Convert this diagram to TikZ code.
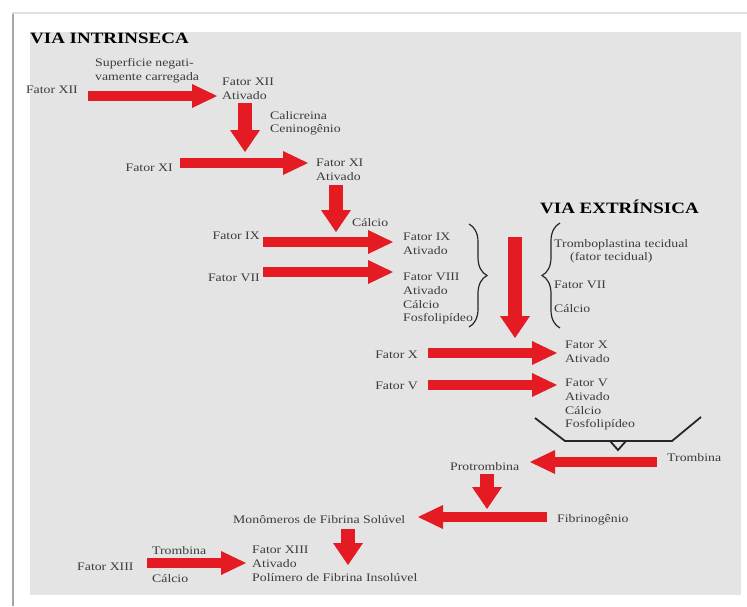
\documentclass[tikz,border=0pt]{standalone}
\usepackage{fontspec}
\setmainfont{Liberation Serif}[FakeStretch=1.2]
\usetikzlibrary{arrows.meta,decorations.pathreplacing}
\definecolor{arrowred}{RGB}{228,27,35}
\definecolor{panelgray}{RGB}{228,228,228}
\definecolor{txtgray}{RGB}{60,60,60}
\begin{document}
\begin{tikzpicture}[x=1pt,y=-1pt,
  lbl/.style={inner sep=0pt, text=txtgray, font=\fontsize{11.5}{13.7}\selectfont, align=left},
  ttl/.style={inner sep=0pt, text=black, font=\fontsize{15.8}{18}\selectfont\bfseries, anchor=base west},
  harrow/.style={draw=arrowred, line width=10pt, -{Triangle[width=24pt,length=25pt,line width=0pt]}},
  varrow/.style={draw=arrowred, line width=14pt, -{Triangle[width=30pt,length=22pt,line width=0pt]}},
  brc/.style={draw=black!85, line width=1.2pt, decorate, decoration={brace, amplitude=18pt}},
  vline/.style={draw=black!85, line width=1.8pt},
]
\useasboundingbox (0,0) rectangle (747,606);
% frame
\fill[white] (0,0) rectangle (747,606);
\fill[panelgray] (30,32) rectangle (741,595);
\fill[black!35] (11.5,13) rectangle (14,606);
\draw[black!12, line width=1.5pt] (12,13) -- (747,13);

% titles
\node[ttl] (t1) at (30,43.5) {VIA INTRINSECA};
\node[ttl] (t2) at (540,213) {VIA EXTRÍNSICA};

% labels
\node[lbl, anchor=base east] (fxii) at (78,93) {Fator XII};
\node[lbl, anchor=north west] (sup) at (95,58) {Superficie negati-\\vamente carregada};
\node[lbl, anchor=north west] (fxiia) at (222,78) {Fator XII\\Ativado};
\node[lbl, anchor=north west] (cal) at (270,111) {Calicreina\\Ceninogênio};
\node[lbl, anchor=base east] (fxi) at (173,171) {Fator XI};
\node[lbl, anchor=north west] (fxia) at (316,159) {Fator XI\\Ativado};
\node[lbl, anchor=base west] (ca1) at (352,226) {Cálcio};
\node[lbl, anchor=base east] (fix) at (260,239) {Fator IX};
\node[lbl, anchor=base east] (fvii) at (260,281) {Fator VII};
\node[lbl, anchor=north west] (fixa) at (403,233) {Fator IX\\Ativado};
\node[lbl, anchor=north west] (fviii) at (403,273) {Fator VIII\\Ativado\\Cálcio\\Fosfolipídeo};
\node[lbl, anchor=north west] (tromb) at (554,239) {Tromboplastina tecidual\\\hspace*{16pt}(fator tecidual)};
\node[lbl, anchor=base west] (fvii2) at (554,288) {Fator VII};
\node[lbl, anchor=base west] (ca2) at (554,312) {Cálcio};
\node[lbl, anchor=base east] (fx) at (418,358) {Fator X};
\node[lbl, anchor=north west] (fxa) at (565,341) {Fator X\\Ativado};
\node[lbl, anchor=base east] (fv) at (418,389) {Fator V};
\node[lbl, anchor=north west] (fva) at (565,379) {Fator V\\Ativado\\Cálcio\\Fosfolipídeo};
\node[lbl, anchor=base west] (trb1) at (667,461) {Trombina};
\node[lbl, anchor=base west] (prot) at (450,470) {Protrombina};
\node[lbl, anchor=base west] (fib) at (557,522) {Fibrinogênio};
\node[lbl, anchor=base west] (mono) at (233,523) {Monômeros de Fibrina Solúvel};
\node[lbl, anchor=base west] (fxiii) at (77,570) {Fator XIII};
\node[lbl, anchor=base west] (trb2) at (152,554) {Trombina};
\node[lbl, anchor=base west] (ca3) at (152,582) {Cálcio};
\node[lbl, anchor=north west] (fxiiia) at (252,546) {Fator XIII\\Ativado\\Polímero de Fibrina Insolúvel};

% arrow end points
\coordinate (a1s) at (88,96);   \coordinate (a1e) at (217,96);
\coordinate (a2s) at (245,103); \coordinate (a2e) at (245,152);
\coordinate (a3s) at (180,163); \coordinate (a3e) at (308,163);
\coordinate (a4s) at (336,185); \coordinate (a4e) at (336,232);
\coordinate (a5s) at (263,242); \coordinate (a5e) at (393,242);
\coordinate (a6s) at (263,272); \coordinate (a6e) at (393,272);
\coordinate (a7s) at (515,237); \coordinate (a7e) at (515,338);
\coordinate (a8s) at (428,353); \coordinate (a8e) at (557,353);
\coordinate (a9s) at (428,385); \coordinate (a9e) at (557,385);
\coordinate (a10s) at (657,462); \coordinate (a10e) at (530,462);
\coordinate (a11s) at (487,474); \coordinate (a11e) at (487,509);
\coordinate (a12s) at (547,517); \coordinate (a12e) at (418,517);
\coordinate (a13s) at (348,529); \coordinate (a13e) at (348,565);
\coordinate (a14s) at (147,563); \coordinate (a14e) at (246,563);

\draw[harrow] (a1s) -- (a1e);
\draw[varrow] (a2s) -- (a2e);
\draw[harrow] (a3s) -- (a3e);
\draw[varrow] (a4s) -- (a4e);
\draw[harrow] (a5s) -- (a5e);
\draw[harrow] (a6s) -- (a6e);
\draw[varrow] (a7s) -- (a7e);
\draw[harrow] (a8s) -- (a8e);
\draw[harrow] (a9s) -- (a9e);
\draw[harrow] (a10s) -- (a10e);
\draw[varrow] (a11s) -- (a11e);
\draw[harrow] (a12s) -- (a12e);
\draw[varrow] (a13s) -- (a13e);
\draw[harrow] (a14s) -- (a14e);

% braces
\draw[brc] (469,224) -- (469,327);
\draw[brc] (560,328) -- (560,223);

% bracket under Fator V group
\draw[vline] (535,418) -- (565,441) -- (672,441) -- (701,417);
\draw[vline] (610,441) -- (618,450) -- (626,441);
\end{tikzpicture}
\end{document}
